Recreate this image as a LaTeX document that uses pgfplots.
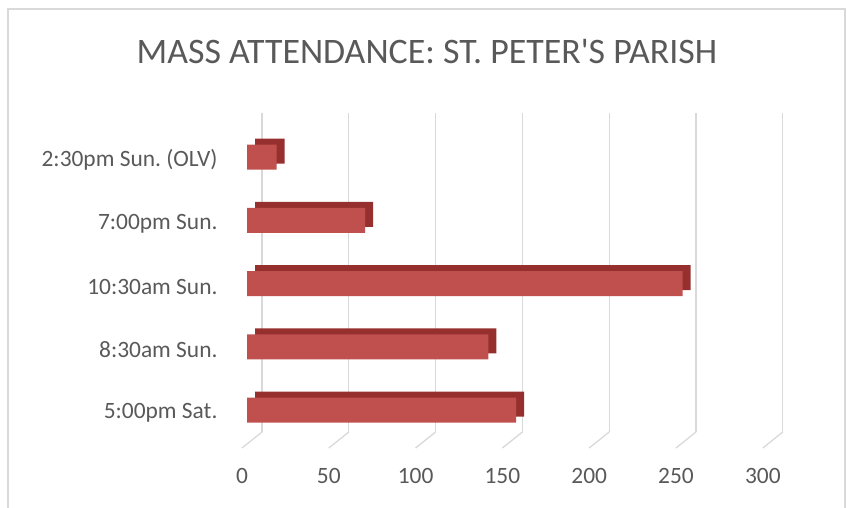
\documentclass[border=0pt]{standalone}
\usepackage{pgfplots}
\pgfplotsset{compat=1.18}
\usepackage{fontspec}
\newfontfamily\cf{Carlito}
\definecolor{barfront}{RGB}{192,80,77}
\definecolor{bartop}{RGB}{150,48,46}
\definecolor{gridc}{RGB}{217,217,217}
\definecolor{txt}{RGB}{89,89,89}
\definecolor{framec}{RGB}{217,217,217}
\begin{document}
\frenchspacing
\begin{tikzpicture}[x=1bp,y=1bp]
\path[use as bounding box] (0,0) rectangle (847,508);
\draw[framec, line width=1.5bp] (8,-5) -- (8,499) -- (845,499) -- (845,-5);
\node[text=txt, font={\cf\fontsize{36}{40}\selectfont}] at (427,456.5) {MASS ATTENDANCE: ST. PETER\char39 S PARISH};
\begin{axis}[
  at={(247bp,76bp)}, anchor=south west,
  scale only axis, width=520.8bp, height=319bp,
  xmin=0, xmax=300, ymin=-0.348, ymax=4.70,
  axis line style={draw=none}, tick style={draw=none},
  xtick={0,50,...,300}, ytick={0,1,2,3,4},
  yticklabels={5:00pm Sat.,8:30am Sun.,10:30am Sun.,7:00pm Sun.,2:30pm Sun. (OLV)},
  xmajorgrids, major grid style={draw=gridc, line width=1.3bp, xshift=15bp},
  tick label style={font=\cf\frenchspacing\fontsize{23.5}{26}\selectfont, text=txt},
  /pgf/number format/assume math mode=true,
  xticklabel style={anchor=center, xshift=-5bp, yshift=-44bp},
  yticklabel style={anchor=east, xshift=-26bp, yshift=-3bp},
  clip=false,
]
\addplot[xbar, bar width=25bp, fill=bartop, draw=none, xshift=8bp, yshift=6bp]
  coordinates {(155,0) (139,1) (251,2) (68,3) (17,4)};
\addplot[xbar, bar width=25bp, fill=barfront, draw=none]
  coordinates {(155,0) (139,1) (251,2) (68,3) (17,4)};
\pgfplotsinvokeforeach{0,50,...,300}{
  \draw[gridc, line width=1.3bp] ([xshift=-5bp,yshift=-16bp]axis cs:#1,-0.348) -- ([xshift=15bp]axis cs:#1,-0.348);
}
\end{axis}
\end{tikzpicture}
\end{document}
